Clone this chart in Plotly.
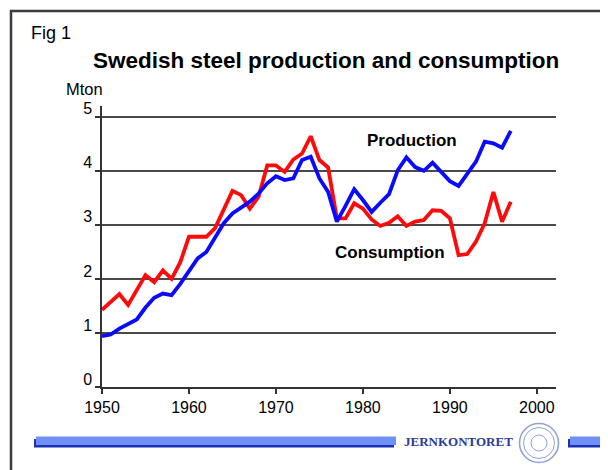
import plotly.graph_objects as go

# Data (Mton)
years = list(range(1950, 1998))
production = [
    0.94, 0.97, 1.08, 1.16, 1.25, 1.47, 1.65, 1.73, 1.70, 1.91,
    2.16, 2.38, 2.50, 2.75, 3.03, 3.21, 3.33, 3.43, 3.58, 3.77,
    3.90, 3.83, 3.86, 4.20, 4.26, 3.86, 3.61, 3.06, 3.35, 3.66,
    3.46, 3.24, 3.41, 3.57, 4.01, 4.25, 4.07, 4.00, 4.15, 3.98,
    3.81, 3.72, 3.94, 4.17, 4.54, 4.51, 4.43, 4.74,
]
consumption = [
    1.43, 1.58, 1.72, 1.52, 1.78, 2.07, 1.94, 2.16, 2.00, 2.31,
    2.78, 2.78, 2.78, 2.94, 3.30, 3.63, 3.55, 3.30, 3.52, 4.10,
    4.10, 3.98, 4.21, 4.32, 4.64, 4.20, 4.06, 3.12, 3.12, 3.40,
    3.30, 3.10, 2.98, 3.04, 3.16, 2.98, 3.06, 3.09, 3.27, 3.26,
    3.12, 2.44, 2.46, 2.69, 3.03, 3.61, 3.06, 3.43,
]
x_ticks = [1950, 1960, 1970, 1980, 1990, 2000]
y_ticks = [0, 1, 2, 3, 4, 5]

# the page body has an 8px margin, so the figure is 8px smaller and
# all page-pixel positions below are shifted by OFF
OFF = 8
W, H = 608 - OFF, 470 - OFF
L, R, T, B = 102 - OFF, 52, 106 - OFF, 83
PW, PH = W - L - R, H - T - B
FONT = "Liberation Sans, Arial, sans-serif"


def px(x):
    """Page pixel x -> paper coordinate."""
    return (x - OFF - L) / PW


def py(y):
    """Page pixel y (from top) -> paper coordinate."""
    return (H - B - (y - OFF)) / PH


fig = go.Figure()

fig.add_trace(go.Scatter(
    x=years, y=consumption, mode="lines",
    line=dict(color="#ff0a0a", width=3.8), name="Consumption",
))
fig.add_trace(go.Scatter(
    x=years, y=production, mode="lines",
    line=dict(color="#0a0aff", width=3.8), name="Production",
))

shapes = []
# page frame (left and top edges)
shapes.append(dict(type="path", xref="paper", yref="paper",
                   path=f"M {px(11)} {py(472)} L {px(11)} {py(11)} L {px(612)} {py(11)}",
                   line=dict(color="#3c3c3c", width=2.5)))

# footer bars with dark shadow
for x0, x1 in [(36, 396), (570, 612)]:
    shapes.append(dict(type="rect", xref="paper", yref="paper",
                       x0=px(x0 - 2), x1=px(x1 - 2), y0=py(447.5), y1=py(439),
                       fillcolor="#1b30b5", line=dict(width=0)))
    shapes.append(dict(type="rect", xref="paper", yref="paper",
                       x0=px(x0), x1=px(x1), y0=py(445), y1=py(436.5),
                       fillcolor="#7090f5", line=dict(width=0)))

# seal
for r, w in [(19.5, 1.6), (15.5, 1.0), (8, 1.0)]:
    shapes.append(dict(type="circle", xref="paper", yref="paper",
                       x0=px(539 - r), x1=px(539 + r), y0=py(443 + r), y1=py(443 - r),
                       line=dict(color="#8fa3d8", width=w)))

annotations = [
    dict(text="Fig 1", x=px(29), y=py(33), xref="paper", yref="paper",
         xanchor="left", yanchor="middle", showarrow=False,
         font=dict(family=FONT, size=18, color="#000")),
    dict(text="<b>Swedish steel production and consumption</b>", x=px(326), y=py(60),
         xref="paper", yref="paper", xanchor="center", yanchor="middle", showarrow=False,
         font=dict(family=FONT, size=22.5, color="#000")),
    dict(text="Mton", x=px(64), y=py(89), xref="paper", yref="paper",
         xanchor="left", yanchor="middle", showarrow=False,
         font=dict(family=FONT, size=16.5, color="#000")),
    dict(text="<b>Production</b>", x=1985.7, y=4.56, xref="x", yref="y",
         showarrow=False, font=dict(family=FONT, size=17, color="#000")),
    dict(text="<b>Consumption</b>", x=1983.1, y=2.48, xref="x", yref="y",
         showarrow=False, font=dict(family=FONT, size=17, color="#000")),
    dict(text="<b>JERNKONTORET</b>", x=px(458), y=py(441), xref="paper", yref="paper",
         xanchor="center", yanchor="middle", showarrow=False,
         font=dict(family="Liberation Serif, Times New Roman, serif", size=13, color="#2c3c98")),
]

fig.update_layout(
    width=W, height=H,
    margin=dict(l=L, r=R, t=T, b=B, pad=0),
    paper_bgcolor="white", plot_bgcolor="white",
    showlegend=False,
    font=dict(family=FONT, color="#000"),
    xaxis=dict(
        range=[1950, 2002.2], tickvals=x_ticks, ticks="outside", ticklen=5,
        tickwidth=1.5, tickcolor="#333", showgrid=False, zeroline=False,
        showline=True, linecolor="#333", linewidth=1.5,
        tickfont=dict(family=FONT, size=16, color="#000"),
    ),
    yaxis=dict(
        range=[0, 5.2], tickvals=y_ticks, ticks="outside", ticklen=5,
        tickwidth=1.5, tickcolor="#333", showgrid=True, gridcolor="#4a4a4a",
        gridwidth=1.5, zeroline=False, showline=True, linecolor="#333",
        linewidth=1.5, ticklabelshift=-8,
        tickfont=dict(family=FONT, size=16, color="#000"),
    ),
    shapes=shapes,
    annotations=annotations,
)

fig.write_html("out.html")
